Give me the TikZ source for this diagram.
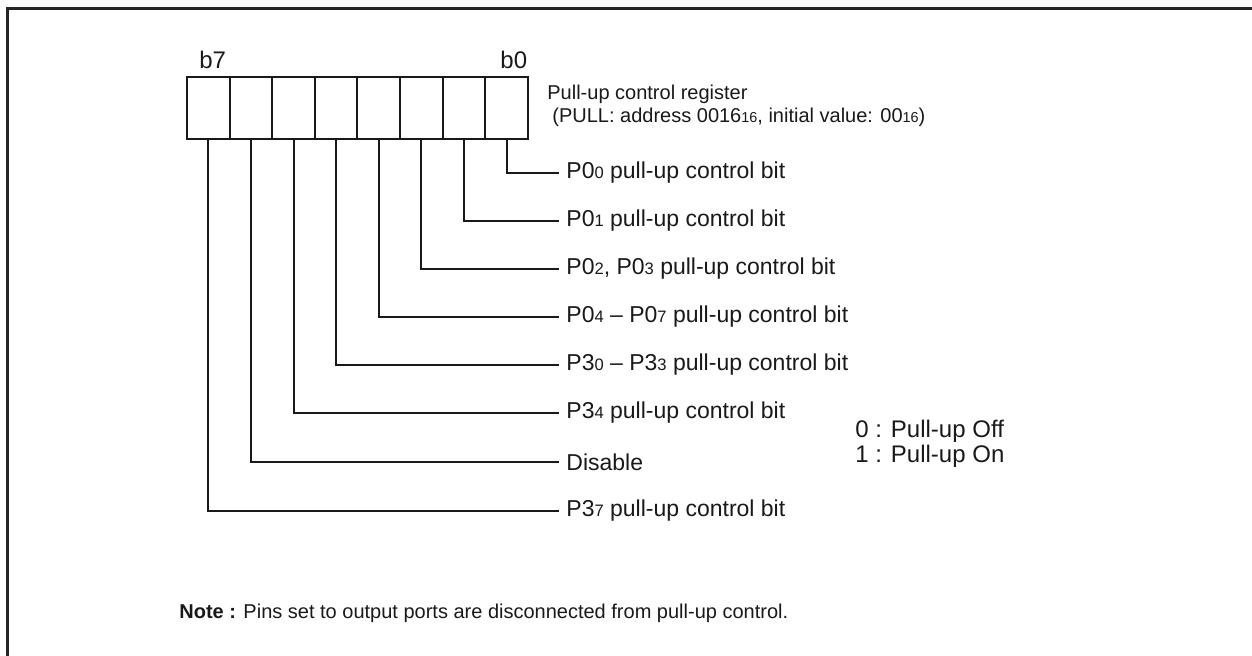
\documentclass[tikz,border=0pt]{standalone}
\usepackage{fontspec}
\setmainfont{Liberation Sans}
\newcommand\sbs[1]{\scalebox{0.72}{#1}}
\begin{document}
\begin{tikzpicture}[x=0.5pt,y=-0.5pt,
  cell/.style={draw=black!90, line width=1pt, minimum width=21.31pt, minimum height=31pt, inner sep=0pt, outer sep=0pt},
  lead/.style={draw=black!90, line width=1pt},
  lbl/.style={anchor=west, inner xsep=3.5pt, inner ysep=0pt, font=\fontsize{11.5}{13}\selectfont, text=black!90},
  bitlbl/.style={anchor=base west, inner sep=0pt, font=\fontsize{12}{14}\selectfont, text=black!90},
  small/.style={inner sep=0pt, font=\fontsize{10}{11.5}\selectfont, text=black!90},
  frame/.style={draw=black!85, line width=1.5pt}]
\useasboundingbox (0,0) rectangle (1252,656);
\clip (0,0) rectangle (1252,656);
\draw[frame] (7.5,720) -- (7.5,8.5) -- (1320,8.5);
% register cells, b7 .. b0
\foreach \k/\b in {0/7,1/6,2/5,3/4,4/3,5/2,6/1,7/0}{
  \node[cell] (c\b) at ({208.3+\k*42.625},108) {};
}
\node[bitlbl] (b7) at (199,69) {b7};
\node[bitlbl] (b0) at (500,69) {b0};
\node[small, anchor=north west, align=left] (reg) at (547,85)
  {Pull-up control register\\\hspace{2.5pt}(PULL: address 0016\sbs{16}, initial value: 00\sbs{16})};
% labels
\node[lbl] (l0) at (559,173) {P0\sbs{0} pull-up control bit};
\node[lbl] (l1) at (559,221) {P0\sbs{1} pull-up control bit};
\node[lbl] (l2) at (559,269) {P0\sbs{2}, P0\sbs{3} pull-up control bit};
\node[lbl] (l3) at (559,317) {P0\sbs{4} -- P0\sbs{7} pull-up control bit};
\node[lbl] (l4) at (559,365) {P3\sbs{0} -- P3\sbs{3} pull-up control bit};
\node[lbl] (l5) at (559,413) {P3\sbs{4} pull-up control bit};
\node[lbl] (l6) at (559,462) {Disable};
\node[lbl] (l7) at (559,511) {P3\sbs{7} pull-up control bit};
\foreach \b in {0,...,7}{
  \draw[lead] (c\b.south) |- (l\b.west);
}
\node[anchor=north west, inner sep=0pt, align=left, font=\fontsize{12}{12.5}\selectfont, text=black!90] (leg) at (855,420)
  {0 : Pull-up Off\\1 : Pull-up On};
\node[small, anchor=west] (note) at (179,613) {\textbf{Note :} Pins set to output ports are disconnected from pull-up control.};
\end{tikzpicture}
\end{document}
